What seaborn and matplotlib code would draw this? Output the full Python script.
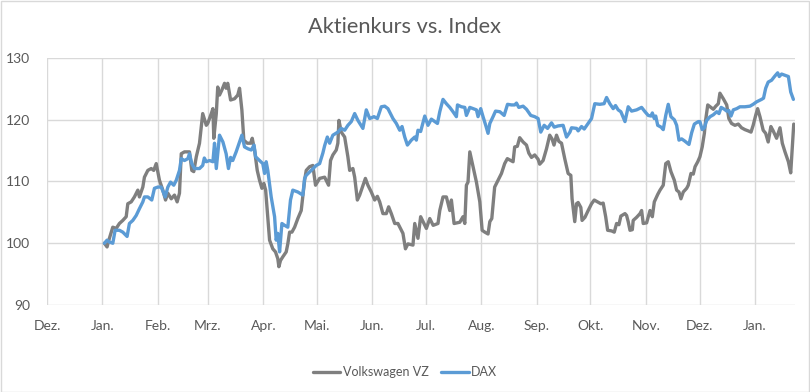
import pandas as pd
import numpy as np
import matplotlib
matplotlib.use("Agg")
import matplotlib.pyplot as plt
import matplotlib.dates as mdates
from matplotlib.patches import Rectangle
import seaborn as sns

title = "Aktienkurs vs. Index"
series_names = ["Volkswagen VZ", "DAX"]
month_labels = ["Dez.", "Jan.", "Feb.", "Mrz.", "Apr.", "Mai.", "Jun.", "Jul.",
                "Aug.", "Sep.", "Okt.", "Nov.", "Dez.", "Jan."]
y_ticks = [90, 100, 110, 120, 130]

# days since 1 January
vw_days = [1.1, 2.6, 3.9, 5.8, 7.7, 9.5, 11.4, 13.3, 14.2, 16.1,
           17.9, 19.8, 20.7, 22.6, 23.5, 25.4, 27.3, 28.7, 30.1, 31.9,
           33.8, 35.3, 36.6, 38.5, 40.3, 41.8, 43.1, 44.1, 45.9, 48.7,
           50.0, 51.1, 52.5, 54.3, 56.1, 58.1, 58.9, 60.9, 61.8, 62.3,
           63.7, 64.5, 65.5, 66.8, 68.3, 69.2, 70.1, 71.7, 73.9, 75.7,
           76.7, 78.0, 79.1, 81.0, 82.9, 83.8, 85.1, 86.6, 87.9, 89.2,
           90.3, 91.3, 92.5, 93.5, 95.3, 96.8, 98.1, 98.7, 99.6, 100.9,
           102.8, 103.7, 104.7, 106.0, 107.5, 109.3, 111.2, 113.1, 114.0, 115.9,
           117.7, 119.2, 121.5, 124.3, 126.5, 127.6, 128.9, 130.8, 131.7, 132.3,
           133.6, 135.5, 137.3, 138.3, 140.1, 141.1, 142.6, 143.9, 145.2, 147.1,
           148.5, 150.4, 152.3, 153.8, 155.1, 156.9, 158.8, 160.1, 161.6, 163.5,
           165.3, 168.1, 169.5, 170.9, 173.7, 174.7, 176.5, 178.0, 181.2, 183.1,
           185.0, 187.7, 188.7, 190.5, 192.4, 194.3, 195.2, 196.7, 199.9, 201.7,
           202.7, 203.6, 204.5, 205.5, 207.3, 209.2, 211.1, 212.4, 213.9, 215.7,
           216.7, 217.8, 219.4, 221.3, 223.2, 225.0, 226.5, 227.8, 229.7, 230.6,
           232.1, 233.4, 235.3, 237.2, 238.5, 240.0, 241.8, 243.7, 244.6, 246.5,
           248.4, 250.2, 251.5, 252.6, 254.0, 255.3, 256.8, 258.6, 260.5, 262.0,
           262.7, 264.2, 265.2, 266.1, 267.6, 268.3, 269.9, 271.7, 273.6, 275.1,
           277.0, 278.8, 280.1, 281.5, 282.6, 284.8, 286.3, 287.6, 288.9, 290.0,
           292.3, 293.2, 294.1, 295.1, 296.4, 296.9, 298.8, 300.7, 301.6, 302.5,
           304.4, 306.3, 307.6, 308.7, 310.6, 311.9, 313.7, 315.1, 316.5, 318.0,
           319.9, 321.2, 322.5, 323.6, 324.9, 326.8, 327.7, 329.2, 330.5, 331.5,
           333.0, 334.2, 335.5, 336.7, 337.4, 338.6, 339.9, 341.7, 343.1, 344.5,
           345.4, 347.3, 349.2, 350.4, 351.9, 353.8, 355.7, 357.5, 359.4, 361.2,
           362.8, 364.0, 365.4, 366.5, 367.8, 369.6, 371.0, 372.4, 373.9, 375.2,
           377.1, 379.0, 380.3, 381.8, 383.7, 385.0, 385.9, 386.7]
vw_values = [100.0, 99.4, 100.8, 102.6, 102.4, 103.2, 103.7, 104.3, 106.4, 106.7,
             107.5, 108.6, 107.5, 109.1, 110.7, 111.8, 112.1, 111.8, 112.9, 110.2,
             108.6, 107.0, 108.1, 107.2, 107.8, 106.7, 108.1, 114.5, 114.8, 114.8,
             111.8, 111.6, 114.0, 116.2, 121.0, 119.1, 119.4, 121.0, 121.8, 117.0,
             121.0, 125.3, 124.0, 124.8, 125.9, 125.1, 125.9, 123.2, 123.4, 124.0,
             125.1, 121.6, 116.7, 116.2, 116.2, 117.0, 115.1, 111.8, 110.2, 108.9,
             109.7, 108.6, 104.3, 100.5, 99.1, 98.6, 97.5, 96.2, 97.2, 97.8,
             98.6, 99.9, 101.8, 101.8, 102.6, 104.0, 105.3, 110.2, 111.8, 112.4,
             112.6, 109.4, 110.5, 110.7, 109.4, 113.4, 114.3, 115.1, 116.2, 119.9,
             118.0, 117.2, 114.0, 111.8, 112.1, 110.7, 107.0, 107.8, 108.9, 110.5,
             109.4, 108.3, 107.0, 107.6, 106.7, 104.8, 104.8, 105.9, 104.8, 103.2,
             103.2, 101.6, 99.1, 99.9, 99.7, 103.2, 100.8, 104.3, 102.4, 104.0,
             102.9, 103.2, 105.3, 107.5, 107.5, 105.3, 107.0, 103.2, 103.4, 104.3,
             103.2, 109.4, 109.9, 114.8, 112.4, 109.9, 106.7, 102.1, 101.8, 101.5,
             103.5, 104.0, 109.1, 110.2, 111.3, 112.9, 113.7, 113.5, 113.2, 115.6,
             115.7, 117.1, 116.4, 115.9, 114.6, 113.9, 114.3, 113.6, 112.8, 113.4,
             115.3, 117.5, 116.9, 115.9, 117.5, 116.5, 116.2, 113.7, 111.3, 111.0,
             107.2, 103.5, 106.4, 106.6, 105.8, 103.7, 104.2, 105.3, 106.4, 107.0,
             106.7, 106.4, 106.5, 104.3, 102.1, 102.0, 101.8, 103.2, 103.0, 104.4,
             104.8, 104.5, 103.5, 102.1, 102.2, 103.7, 104.2, 104.8, 105.3, 103.2,
             103.3, 105.3, 104.3, 106.7, 107.9, 108.6, 109.4, 112.9, 113.2, 111.6,
             110.2, 108.6, 108.3, 107.2, 108.3, 108.9, 109.4, 111.3, 111.2, 112.4,
             113.2, 114.0, 115.6, 117.8, 119.9, 122.4, 122.1, 121.7, 122.2, 122.6,
             124.3, 123.4, 122.4, 120.2, 119.4, 119.1, 119.3, 118.7, 118.4, 118.2,
             118.0, 119.1, 120.7, 121.8, 120.5, 118.3, 117.8, 116.4, 118.9, 118.2,
             117.0, 118.7, 116.2, 114.8, 113.2, 111.4, 115.6, 119.3]

dax_days = [1.1, 2.6, 3.9, 5.8, 7.1, 9.5, 11.4, 13.8, 15.1, 17.0,
            18.9, 20.7, 22.6, 23.5, 25.4, 27.6, 29.1, 31.0, 32.9, 35.1,
            36.6, 38.1, 39.9, 41.3, 43.1, 44.1, 45.9, 47.8, 48.7, 50.0,
            51.5, 54.3, 56.1, 57.0, 58.1, 59.9, 61.8, 62.7, 63.7, 65.5,
            67.4, 69.2, 70.5, 71.7, 72.9, 74.8, 76.7, 78.0, 79.5, 81.4,
            83.3, 84.8, 85.7, 87.9, 89.7, 90.7, 91.6, 92.5, 94.4, 96.3,
            97.2, 98.1, 99.1, 100.4, 101.9, 103.7, 105.2, 106.5, 109.3, 112.1,
            113.1, 114.0, 116.8, 119.6, 121.5, 123.3, 124.3, 125.8, 127.1, 128.9,
            131.7, 133.6, 135.5, 137.3, 139.2, 141.1, 142.9, 145.7, 147.6, 149.5,
            151.9, 153.8, 156.0, 157.9, 159.7, 162.5, 164.4, 166.3, 167.6, 169.1,
            170.6, 172.8, 174.7, 175.6, 176.5, 178.0, 180.3, 182.1, 184.0, 185.9,
            187.4, 188.7, 190.5, 192.4, 194.3, 196.1, 198.0, 198.6, 200.8, 202.7,
            203.6, 205.5, 207.3, 209.2, 210.1, 211.6, 212.9, 214.4, 215.7, 216.7,
            218.5, 219.9, 222.3, 224.7, 226.6, 228.8, 230.6, 231.6, 232.9, 235.3,
            237.2, 239.6, 241.8, 243.7, 245.2, 247.1, 249.0, 251.2, 252.7, 254.9,
            257.7, 259.6, 261.5, 262.4, 265.2, 266.1, 268.0, 269.5, 271.7, 273.6,
            275.4, 278.2, 280.6, 282.0, 283.8, 285.7, 287.0, 288.5, 290.0, 292.3,
            294.1, 296.0, 298.8, 301.6, 303.5, 305.3, 306.9, 307.6, 308.7, 309.5,
            310.6, 312.5, 313.7, 315.1, 316.5, 318.0, 319.9, 321.2, 322.5, 324.0,
            325.5, 326.8, 328.1, 329.6, 331.1, 333.3, 334.2, 335.5, 336.7, 338.0,
            339.9, 341.7, 343.6, 344.9, 346.1, 347.9, 349.2, 350.4, 351.6, 352.9,
            354.8, 356.6, 359.4, 362.2, 364.0, 365.9, 368.7, 369.8, 371.0, 372.4,
            374.3, 376.2, 377.7, 378.6, 379.9, 381.8, 383.7, 385.0, 386.5]
dax_values = [100.0, 100.5, 100.2, 100.0, 102.1, 102.1, 101.8, 101.1, 103.2, 103.7,
              104.5, 105.6, 106.7, 107.5, 107.5, 107.0, 108.9, 109.1, 109.1, 107.5,
              109.1, 109.9, 109.4, 110.2, 111.8, 113.7, 113.4, 113.7, 114.5, 112.9,
              112.1, 112.1, 112.6, 113.8, 113.2, 113.4, 113.2, 116.2, 112.1, 117.5,
              116.4, 114.5, 112.1, 113.9, 113.4, 114.8, 116.4, 117.5, 115.6, 115.3,
              115.1, 115.9, 114.0, 113.4, 112.9, 111.3, 113.2, 111.8, 107.5, 104.3,
              100.5, 101.6, 98.6, 103.2, 102.9, 102.6, 107.0, 108.6, 108.3, 107.8,
              110.5, 111.0, 111.8, 112.6, 112.9, 114.6, 115.8, 117.2, 116.2, 117.5,
              118.0, 118.6, 118.3, 119.1, 119.7, 121.0, 119.9, 118.6, 121.6, 120.2,
              120.5, 120.2, 122.1, 122.2, 121.8, 120.2, 119.4, 118.3, 118.9, 117.2,
              115.9, 116.7, 117.2, 116.7, 118.3, 118.1, 120.6, 119.1, 120.1, 119.7,
              119.4, 121.3, 123.3, 122.6, 122.0, 121.3, 120.5, 122.4, 122.1, 122.0,
              120.7, 122.0, 121.8, 121.6, 120.5, 121.8, 120.5, 119.1, 117.8, 119.4,
              120.5, 121.4, 121.3, 120.7, 122.5, 122.4, 122.4, 122.7, 122.0, 122.2,
              121.7, 120.7, 120.5, 120.2, 118.0, 119.1, 118.6, 119.5, 118.8, 119.0,
              119.1, 117.2, 118.0, 118.7, 118.6, 118.2, 118.9, 118.5, 119.4, 120.2,
              122.6, 122.5, 122.6, 123.6, 122.6, 121.8, 122.3, 121.6, 121.3, 119.7,
              122.1, 121.4, 121.6, 122.0, 121.3, 120.7, 120.6, 121.1, 120.2, 120.6,
              119.1, 118.8, 118.4, 120.7, 122.5, 120.5, 120.0, 119.1, 116.7, 116.9,
              116.6, 116.3, 116.0, 117.9, 119.3, 119.7, 119.7, 118.4, 118.7, 119.9,
              120.5, 120.8, 121.3, 121.0, 122.0, 121.7, 121.4, 121.5, 120.6, 121.6,
              121.8, 122.1, 122.1, 122.2, 122.5, 122.9, 123.3, 123.5, 125.1, 126.1,
              126.4, 127.1, 127.6, 127.0, 127.4, 127.2, 127.0, 124.5, 123.3]

base = pd.Timestamp("2019-01-01")
df = pd.concat([
    pd.DataFrame({"Datum": base + pd.to_timedelta(vw_days, unit="D"),
                  "Wert": vw_values, "Serie": series_names[0]}),
    pd.DataFrame({"Datum": base + pd.to_timedelta(dax_days, unit="D"),
                  "Wert": dax_values, "Serie": series_names[1]}),
], ignore_index=True)

sns.set_theme(style="white")
plt.rcParams["font.family"] = ["Lato", "DejaVu Sans"]

text_color = "#595959"
grid_color = "#d9d9d9"
palette = {series_names[0]: "#7f7f7f", series_names[1]: "#5b9bd5"}

fig = plt.figure(figsize=(8.1, 3.92), dpi=100)
ax = fig.add_axes([47 / 810, 1 - 305 / 392, (795 - 47) / 810, (305 - 58) / 392])

sns.lineplot(data=df, x="Datum", y="Wert", hue="Serie", palette=palette,
             linewidth=2.4, ax=ax, legend=False, sort=True, estimator=None)

month_ticks = pd.date_range("2018-12-01", "2020-01-01", freq="MS")
ax.set_xticks(month_ticks)
ax.set_xticklabels(month_labels)
ax.set_xlim(pd.Timestamp("2018-12-01"), base + pd.Timedelta(days=387.4))
ax.set_ylim(90, 130)
ax.set_yticks(y_ticks)
ax.set_yticklabels([str(v) for v in y_ticks])
ax.grid(True, color=grid_color, linewidth=1)
ax.set_axisbelow(True)
for s in ax.spines.values():
    s.set_visible(False)
ax.tick_params(axis="both", length=0, labelsize=10, labelcolor=text_color)
ax.tick_params(axis="x", pad=11)
ax.tick_params(axis="y", pad=12)
ax.set_xlabel("")
ax.set_ylabel("")

fig.text(0.5, 1 - 27 / 392, title, ha="center", va="center",
         fontsize=15.7, color=text_color)

handles = [plt.Line2D([], [], color=palette[n], linewidth=2.4) for n in series_names]
fig.legend(handles, series_names, loc="center", bbox_to_anchor=(0.5, 1 - 372 / 392),
           ncol=2, frameon=False, fontsize=9, handlelength=2.2, handletextpad=0.2,
           columnspacing=1.0, labelcolor=text_color)

fig.patches.append(Rectangle((0.5 / 810, 0.5 / 392), 1 - 1.5 / 810, 1 - 1.5 / 392,
                             transform=fig.transFigure, fill=False,
                             edgecolor=grid_color, linewidth=1))

fig.savefig("out.png", dpi=100, facecolor="white")
